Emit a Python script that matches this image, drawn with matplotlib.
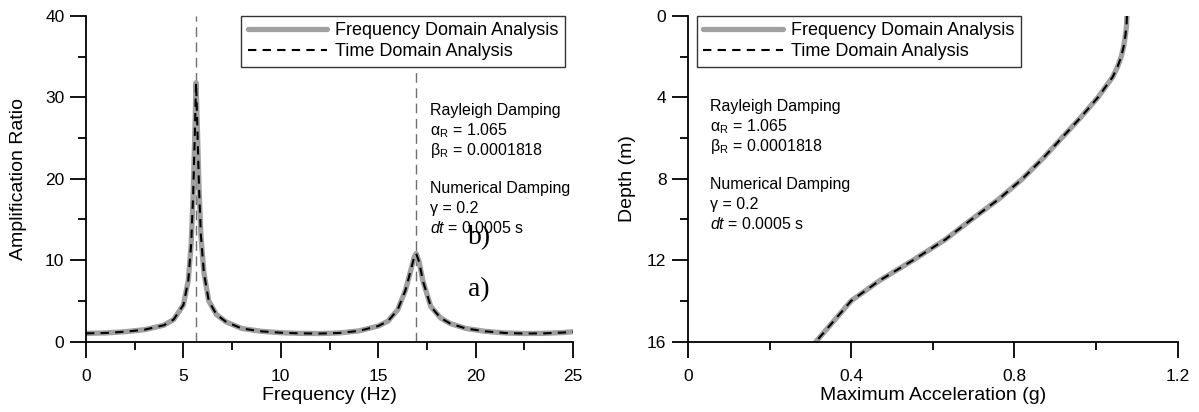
import matplotlib
matplotlib.use("Agg")
import matplotlib.pyplot as plt
from matplotlib.ticker import MultipleLocator

plt.rcParams['font.family'] = ['Liberation Sans', 'DejaVu Sans']
plt.rcParams['mathtext.fontset'] = 'custom'
plt.rcParams['mathtext.rm'] = 'Liberation Sans'
plt.rcParams['mathtext.it'] = 'Liberation Sans:italic'
plt.rcParams['mathtext.bf'] = 'Liberation Sans:bold'

# ---- Data: panel (a) amplification ratio ----
freq_fd = [0, 1, 2, 3, 4, 4.5, 5, 5.25, 5.4, 5.5, 5.58, 5.65, 5.72, 5.8, 5.9,
           6.05, 6.3, 6.7, 7.2, 8, 9, 10, 11, 12, 13, 14, 15, 15.5, 16, 16.4,
           16.7, 16.85, 16.95, 17.1, 17.3, 17.7, 18.2, 18.7, 19.5, 20.5, 21.5,
           22.5, 23.5, 24.5, 25]
amp_fd = [1.0, 1.05, 1.2, 1.45, 2.0, 2.7, 4.5, 7.5, 12.0, 18.0, 25.0, 31.8,
          26.0, 19.0, 13.0, 8.5, 5.0, 3.3, 2.4, 1.6, 1.25, 1.08, 1.0, 0.98,
          1.05, 1.3, 1.9, 2.5, 3.9, 6.3, 9.0, 10.4, 10.8, 9.8, 7.4, 4.3, 2.9,
          2.2, 1.6, 1.25, 1.05, 0.98, 1.0, 1.1, 1.2]
freq_td = list(freq_fd)
amp_td = list(amp_fd)
peak_freqs = [5.65, 16.95]

# ---- Data: panel (b) max acceleration profile ----
depth = [0, 0.5, 1, 1.5, 2, 2.5, 3, 4, 5, 6, 7, 8, 9, 10, 11, 12, 13, 14, 15, 16]
acc_fd = [1.076, 1.075, 1.072, 1.068, 1.062, 1.053, 1.041, 1.005, 0.962, 0.916,
          0.870, 0.820, 0.762, 0.695, 0.630, 0.552, 0.470, 0.400, 0.357, 0.314]
acc_td = list(acc_fd)

legend_labels = ["Frequency Domain Analysis", "Time Domain Analysis"]
note_lines = ["Rayleigh Damping", r"α$_{\rm R}$ = 1.065",
              r"β$_{\rm R}$ = 0.0001818", "",
              "Numerical Damping", "γ = 0.2", r"$dt$ = 0.0005 s"]
note_offsets = [0, 20, 40, None, 78, 98, 117]

GRAY = '#a0a0a0'
W, H = 1199, 412

fig = plt.figure(figsize=(W/100, H/100), dpi=100)
y0, y1 = 341.5, 16
axL = fig.add_axes([86/W, 1-y0/H, (573-86)/W, (y0-y1)/H])
axR = fig.add_axes([688/W, 1-y0/H, (1177.5-688)/W, (y0-y1)/H])


def style(ax):
    for s in ['top', 'right']:
        ax.spines[s].set_visible(False)
    for s in ['left', 'bottom']:
        ax.spines[s].set_linewidth(1.3)
    ax.tick_params(which='major', direction='out', length=11.5, width=1.3,
                   labelsize=12.5)
    ax.tick_params(which='minor', direction='out', length=6, width=1.3)
    ax.tick_params(axis='x', which='major', pad=8)
    ax.tick_params(axis='y', which='major', pad=4)


def legend(ax, loc, anchor):
    leg = ax.legend(loc=loc, bbox_to_anchor=anchor, fontsize=13,
                    handlelength=4.4, handletextpad=0.45, borderpad=0.35,
                    labelspacing=0.22, fancybox=False, framealpha=1,
                    edgecolor='#333333', borderaxespad=0)
    leg.get_frame().set_linewidth(1.0)


def notes(x, ytop):
    for line, off in zip(note_lines, note_offsets):
        if line:
            fig.text(x/W, 1 - (ytop + off)/H, line, fontsize=11.5,
                     va='center', ha='left')


# Left panel
axL.plot(freq_fd, amp_fd, color=GRAY, lw=3.8, solid_capstyle='round',
         solid_joinstyle='round', label=legend_labels[0])
axL.plot(freq_td, amp_td, color='black', lw=1.5, linestyle=(0, (4, 3)),
         label=legend_labels[1])
for pf in peak_freqs:
    axL.axvline(pf, color='#707070', lw=1.0, linestyle=(0, (7, 4)), zorder=0)
axL.set_xlim(0, 25)
axL.set_ylim(0, 40)
axL.xaxis.set_major_locator(MultipleLocator(5))
axL.xaxis.set_minor_locator(MultipleLocator(2.5))
axL.yaxis.set_major_locator(MultipleLocator(10))
axL.yaxis.set_minor_locator(MultipleLocator(5))
style(axL)
axL.set_xlabel("Frequency (Hz)", fontsize=14)
axL.set_ylabel("Amplification Ratio", fontsize=14)
axL.xaxis.set_label_coords(0.5, (y0-387)/(y0-y1))
axL.yaxis.set_label_coords((27-86)/(573-86), 0.5)
legend(axL, 'upper right', ((565-86)/(573-86), 1.0))
notes(430, 111)
fig.text(468/W, 1 - 238/H, "b)", fontsize=20, family='Liberation Serif',
         va='center', ha='left')
fig.text(468/W, 1 - 290/H, "a)", fontsize=20, family='Liberation Serif',
         va='center', ha='left')

# Right panel
axR.plot(acc_fd, depth, color=GRAY, lw=3.8, solid_capstyle='round',
         solid_joinstyle='round', label=legend_labels[0])
axR.plot(acc_td, depth, color='black', lw=1.5, linestyle=(0, (4, 3)),
         label=legend_labels[1])
axR.set_xlim(0, 1.2)
axR.set_ylim(16, 0)
axR.xaxis.set_major_locator(MultipleLocator(0.4))
axR.xaxis.set_minor_locator(MultipleLocator(0.2))
axR.yaxis.set_major_locator(MultipleLocator(4))
axR.yaxis.set_minor_locator(MultipleLocator(2))
axR.xaxis.set_major_formatter(plt.FuncFormatter(lambda v, p: '0' if abs(v) < 1e-9 else f'{v:.1f}'))
style(axR)
axR.set_xlabel("Maximum Acceleration (g)", fontsize=14)
axR.set_ylabel("Depth (m)", fontsize=14)
axR.xaxis.set_label_coords(0.5, (y0-387)/(y0-y1))
axR.yaxis.set_label_coords((636-688)/(1177.5-688), 0.5)
legend(axR, 'upper left', ((697-688)/(1177.5-688), 1.0))
notes(710, 107)

fig.savefig("out.png", dpi=100)
